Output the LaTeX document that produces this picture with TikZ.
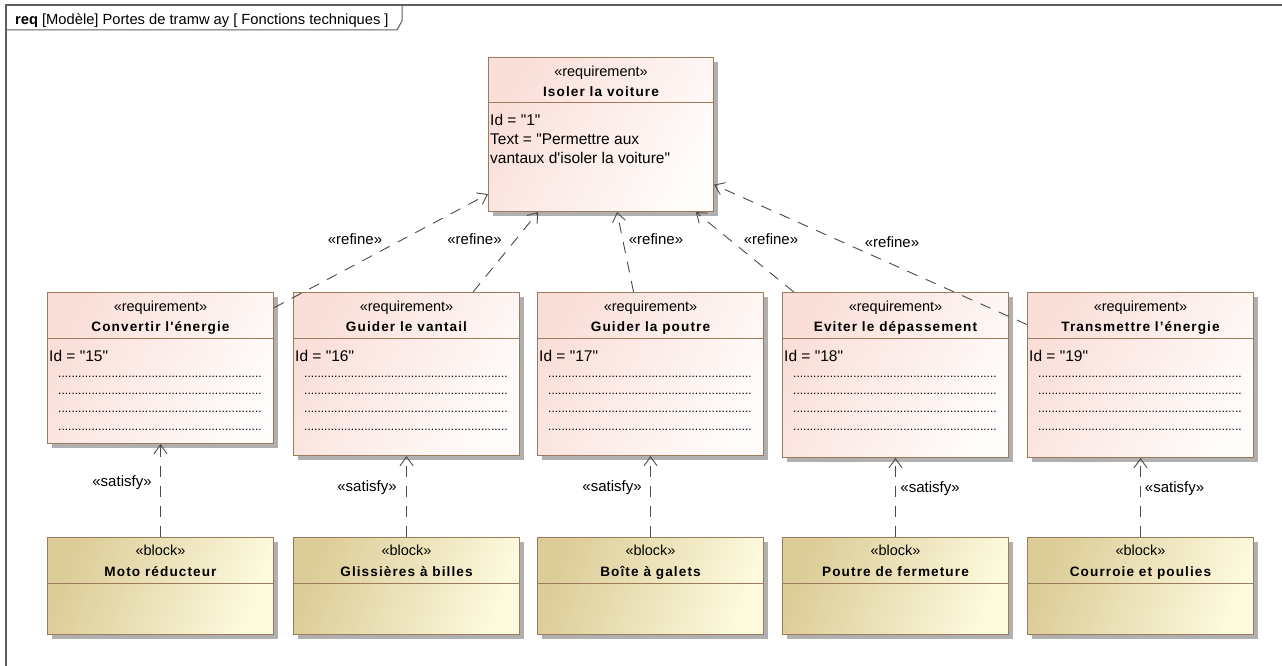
\documentclass[tikz,border=0pt]{standalone}
\usepackage{fontspec}
\newfontfamily\lsans{Liberation Sans}
\newfontfamily\ltitle[LetterSpace=8]{Liberation Sans}
\usetikzlibrary{arrows.meta,shadows,calc}
\definecolor{frameC}{HTML}{5E5E5E}
\definecolor{edgeC}{HTML}{9C7A5C}
\definecolor{reqA}{HTML}{FADFD9}
\definecolor{reqB}{HTML}{FFFCFB}
\definecolor{blkA}{HTML}{DCCC97}
\definecolor{blkB}{HTML}{FDFADE}
\definecolor{shadowC}{HTML}{B0B0B0}
\definecolor{lineC}{HTML}{4A4A4A}
\begin{document}
\begin{tikzpicture}[x=1pt,y=-1pt,
  box/.style={draw=edgeC, line width=1pt, rectangle, inner sep=0pt, anchor=north west,
    drop shadow={shadow xshift=4.5pt, shadow yshift=-4.5pt, fill=shadowC, opacity=1}},
  reqbox/.style={box, top color=reqA, bottom color=reqB, shading angle=60},
  blkbox/.style={box, top color=blkA, bottom color=blkB, shading angle=70},
  stereo/.style={anchor=base, inner sep=0pt, font=\lsans\fontsize{14.5}{17}\selectfont},
  ttl/.style={anchor=base, inner sep=0pt, font=\ltitle\bfseries\fontsize{13.6}{16}\selectfont},
  body/.style={anchor=base west, inner sep=0pt, font=\lsans\fontsize{15.5}{19}\selectfont},
  dotrow/.style={anchor=base west, inner sep=0pt, font=\lsans\fontsize{12}{14}\selectfont},
  lbl/.style={anchor=base, inner sep=0pt, font=\lsans\fontsize{15}{18}\selectfont},
  sep/.style={draw=edgeC, line width=1pt},
  frameline/.style={draw=frameC, line width=1pt},
  conn/.style={draw=lineC, line width=0.9pt, dash pattern=on 11pt off 9pt,
    -{Straight Barb[length=9pt,width=13pt,line width=0.9pt]}}
]
\useasboundingbox (0,0) rectangle (1282,666);
\fill[white] (0,0) rectangle (1282,666);

% frame (continues beyond the visible area on the right and bottom)
\draw[frameline, line width=1.6pt] (6,666) -- (6,5) -- (1282,5);
\draw[frameline] (6,30) -- (397,30) -- (402,21) -- (402,5);
\node[anchor=base west, inner sep=0pt, font=\lsans\fontsize{14.7}{17}\selectfont] (title) at (15,25)
  {\textbf{req} [Modèle] Portes de tramw ay [ Fonctions techniques ]};

% top requirement
\node[reqbox, minimum width=225pt, minimum height=154pt] (top) at (488,57) {};
\draw[sep] ($(top.north west)+(0,46)$) -- ($(top.north east)+(0,46)$);
\node[stereo] at ($(top.north)+(0,19.5)$) {«requirement»};
\node[ttl] at ($(top.north)+(0,39.5)$) {Isoler la voiture};
\node[body] at ($(top.north west)+(2,69)$) {Id = "1"};
\node[body] at ($(top.north west)+(2,88)$) {Text = "Permettre aux};
\node[body] at ($(top.north west)+(2,107)$) {vantaux d'isoler la voiture"};

% requirement boxes
\node[reqbox, minimum width=226pt, minimum height=151pt] (r15) at (47,292) {};
\node[reqbox, minimum width=226pt, minimum height=163pt] (r16) at (293,292) {};
\node[reqbox, minimum width=226pt, minimum height=163pt] (r17) at (537,292) {};
\node[reqbox, minimum width=226pt, minimum height=165pt] (r18) at (782,292) {};
\node[reqbox, minimum width=226pt, minimum height=165pt] (r19) at (1027,292) {};

\foreach \n/\t/\i in {r15/{Convertir l'énergie}/15, r16/{Guider le vantail}/16, r17/{Guider la poutre}/17,
    r18/{Eviter le dépassement}/18, r19/{Transmettre l’énergie}/19}{
  \draw[sep] ($(\n.north west)+(0,46)$) -- ($(\n.north east)+(0,46)$);
  \node[stereo] at ($(\n.north)+(0,19)$) {«requirement»};
  \node[ttl] at ($(\n.north)+(0,39.5)$) {\t};
  \node[body] at ($(\n.north west)+(2,69)$) {Id = "\i"};
  \foreach \dy in {85,102.7,120.4,138}{
    \node[dotrow] at ($(\n.north west)+(11,\dy)$) {\hbox to 205pt{\leaders\hbox{.}\hfill}};
  }
}

% blocks
\node[blkbox, minimum width=226pt, minimum height=97pt] (b1) at (47,537) {};
\node[blkbox, minimum width=226pt, minimum height=97pt] (b2) at (293,537) {};
\node[blkbox, minimum width=226pt, minimum height=97pt] (b3) at (537,537) {};
\node[blkbox, minimum width=226pt, minimum height=97pt] (b4) at (782,537) {};
\node[blkbox, minimum width=226pt, minimum height=97pt] (b5) at (1027,537) {};

\foreach \n/\t in {b1/{Moto réducteur}, b2/{Glissières à billes}, b3/{Boîte à galets},
    b4/{Poutre de fermeture}, b5/{Courroie et poulies}}{
  \draw[sep] ($(\n.north west)+(0,46)$) -- ($(\n.north east)+(0,46)$);
  \node[stereo] at ($(\n.north)+(0,18)$) {«block»};
  \node[ttl] at ($(\n.north)+(0,39)$) {\t};
}

% refine connectors
\draw[conn] (r15) -- (top);
\draw[conn] (r16) -- (top);
\draw[conn] (r17) -- (top);
\draw[conn] (r18) -- (top);
\draw[conn] (r19) -- (top);
\node[lbl] (l1) at (355,244) {«refine»};
\node[lbl] (l2) at (474.5,244) {«refine»};
\node[lbl] (l3) at (656,244) {«refine»};
\node[lbl] (l4) at (771,244) {«refine»};
\node[lbl] (l5) at (892,247) {«refine»};

% satisfy connectors
\draw[conn] (b1) -- (r15);
\draw[conn] (b2) -- (r16);
\draw[conn] (b3) -- (r17);
\draw[conn] (b4) -- (r18);
\draw[conn] (b5) -- (r19);
\node[lbl] (s1) at (122,486) {«satisfy»};
\node[lbl] (s2) at (367,491) {«satisfy»};
\node[lbl] (s3) at (612,491) {«satisfy»};
\node[lbl] (s4) at (930,492) {«satisfy»};
\node[lbl] (s5) at (1174.5,492) {«satisfy»};
\end{tikzpicture}
\end{document}
